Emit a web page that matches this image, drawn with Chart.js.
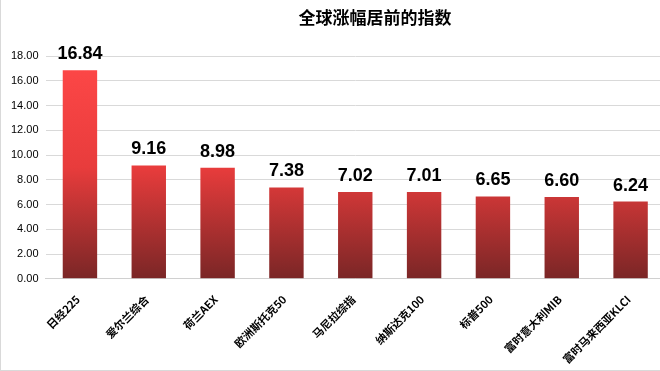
<!DOCTYPE html>
<html>
<head>
<meta charset="utf-8">
<script src="https://cdn.jsdelivr.net/npm/chart.js@4"></script>
<style>
  html, body { margin: 0; padding: 0; background: #fff; overflow: hidden; }
  #wrap { width: 659px; height: 370px; border-left: 1px solid #d9d9d9; border-bottom: 1px solid #d9d9d9; overflow: hidden; }
</style>
</head>
<body>
<div id="wrap"><canvas id="my-chart" width="664" height="370"></canvas></div>
<script>
"use strict";

const chartTitle = "全球涨幅居前的指数";
const categories = ["日经225", "爱尔兰综合", "荷兰AEX", "欧洲斯托克50", "马尼拉综指", "纳斯达克100", "标普500", "富时意大利MIB", "富时马来西亚KLCI"];
const values = [16.84, 9.16, 8.98, 7.38, 7.02, 7.01, 6.65, 6.60, 6.24];
const yTicks = [0, 2, 4, 6, 8, 10, 12, 14, 16, 18];

const cjkFont = "'Noto Sans CJK SC', 'Liberation Sans', sans-serif";

// title sits a bit right of centre in the original, so draw it by hand
const titleText = {
  id: "titleText",
  afterDraw(chart) {
    const ctx = chart.ctx;
    ctx.save();
    ctx.font = "bold 17px " + cjkFont;
    ctx.fillStyle = "#000";
    ctx.textAlign = "center";
    ctx.textBaseline = "middle";
    ctx.fillText(chartTitle, 374, 18);
    ctx.restore();
  },
};

// draws the value above every bar
const valueLabels = {
  id: "valueLabels",
  afterDatasetsDraw(chart) {
    const ctx = chart.ctx;
    const meta = chart.getDatasetMeta(0);
    ctx.save();
    ctx.font = "bold 18px 'Liberation Sans', sans-serif";
    ctx.fillStyle = "#000";
    ctx.textAlign = "center";
    ctx.textBaseline = "bottom";
    meta.data.forEach(function (bar, i) {
      ctx.fillText(values[i].toFixed(2), bar.x, bar.y - 7);
    });
    ctx.restore();
  },
};

function barGradient(context) {
  const area = context.chart.chartArea;
  if (!area) return "#e04040";
  const g = context.chart.ctx.createLinearGradient(0, area.top, 0, area.bottom);
  g.addColorStop(0, "#ff4848");
  g.addColorStop(0.5, "#e83c3c");
  g.addColorStop(1, "#7a2626");
  return g;
}

new Chart(document.getElementById("my-chart"), {
  type: "bar",
  data: {
    labels: categories,
    datasets: [
      {
        data: values,
        backgroundColor: barGradient,
        borderWidth: 0,
        barPercentage: 0.5,
        categoryPercentage: 1,
      },
    ],
  },
  options: {
    responsive: false,
    animation: false,
    layout: { padding: { left: 3, right: 0, top: 56, bottom: -2 } },
    plugins: {
      legend: { display: false },
      tooltip: { enabled: false },
    },
    scales: {
      x: {
        grid: { display: false },
        border: { color: "#d0d0d0" },
        ticks: {
          color: "#000",
          autoSkip: false,
          maxRotation: 45,
          minRotation: 45,
          padding: 6,
          labelOffset: -2,
          font: { family: cjkFont, size: 11, weight: "bold" },
        },
      },
      y: {
        min: 0,
        max: 18,
        afterBuildTicks(axis) {
          axis.ticks = yTicks.map(function (v) { return { value: v }; });
        },
        grid: { color: "#d9d9d9", drawTicks: false },
        border: { display: false },
        ticks: {
          color: "#000",
          padding: 7,
          font: { family: "'Liberation Sans', sans-serif", size: 11 },
          callback: function (v) { return Number(v).toFixed(2); },
        },
      },
    },
  },
  plugins: [valueLabels, titleText],
});
</script>
</body>
</html>
